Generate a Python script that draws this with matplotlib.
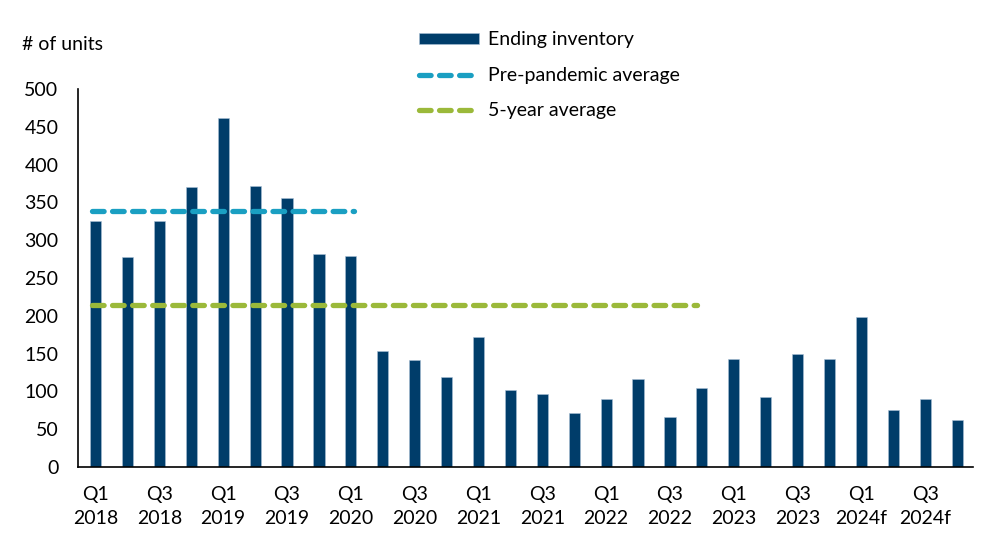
import matplotlib.pyplot as plt
import numpy as np
from matplotlib.lines import Line2D
from matplotlib.patches import Patch

plt.rcParams['font.family'] = ['Lato', 'DejaVu Sans']

# Quarterly ending inventory, Q1 2018 .. Q4 2024f
quarters = ['Q1', 'Q2', 'Q3', 'Q4'] * 7
years = ['2018', '2019', '2020', '2021', '2022', '2023', '2024f']
inventory = [325, 278, 325, 370, 461, 372, 356, 282, 279,
             153, 141, 119, 172, 102, 97, 71, 90, 116, 66, 105,
             143, 92, 149, 143, 198, 75, 90, 62]
pre_pandemic_avg = 339
pre_pandemic_span = 9      # Q1 2018 .. Q1 2020
five_year_avg = 214
five_year_span = 20        # Q1 2018 .. Q4 2022

bar_color = '#003d6a'
blue_line = '#1a9fc2'
green_line = '#9bb93a'

fig = plt.figure(figsize=(9.92, 5.58), dpi=100)
ax = fig.add_axes([0.0786, 0.163, 0.9024, 0.6775])

x = np.arange(len(inventory))
ax.bar(x, inventory, width=0.35, color=bar_color, edgecolor='#a9c0d6', linewidth=0.4, zorder=2)

dash = dict(linewidth=3.8, dashes=(2.2, 1.6), solid_capstyle='round',
            dash_capstyle='round', zorder=3)
ax.plot([x[0] - 0.1, x[pre_pandemic_span - 1] + 0.1], [pre_pandemic_avg] * 2, color=blue_line, **dash)
ax.plot([x[0] - 0.1, x[five_year_span - 1] - 0.15], [five_year_avg] * 2, color=green_line, **dash)

ax.set_xlim(-0.55, len(inventory) - 0.5)
ax.set_ylim(0, 500)
ax.set_yticks(np.arange(0, 501, 50))
ax.tick_params(axis='y', length=0, pad=14, labelsize=14)
ax.tick_params(axis='x', length=0, pad=14, labelsize=14)

labels = [f'{q}\n{years[i // 4]}' for i, q in enumerate(quarters)]
ax.set_xticks(x[::2])
ax.set_xticklabels(labels[::2], linespacing=1.45)

for side in ['top', 'right']:
    ax.spines[side].set_visible(False)
for side in ['left', 'bottom']:
    ax.spines[side].set_linewidth(1.2)
    ax.spines[side].set_color('black')

fig.text(22 / 992, 1 - 44 / 558, '# of units', fontsize=14, va='center', ha='left')

handles = [
    Patch(facecolor=bar_color, edgecolor='#a9c0d6', linewidth=0.4),
    Line2D([0], [0], color=blue_line, linewidth=3.8, dashes=(2.2, 1.6), dash_capstyle='round'),
    Line2D([0], [0], color=green_line, linewidth=3.8, dashes=(2.2, 1.6), dash_capstyle='round'),
]
fig.legend(handles, ['Ending inventory', 'Pre-pandemic average', '5-year average'],
           loc='upper left', bbox_to_anchor=(401 / 992, 1 - 14 / 558),
           frameon=False, fontsize=14, handlelength=3.1, handleheight=0.55,
           handletextpad=0.45, labelspacing=0.95)

plt.savefig('out.png', dpi=100)
